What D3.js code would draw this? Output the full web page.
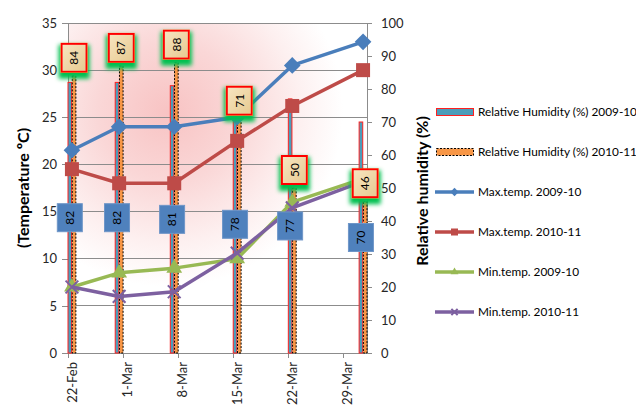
<!DOCTYPE html>
<html>
<head>
<meta charset="utf-8">
<script src="https://cdn.jsdelivr.net/npm/d3@7"></script>
<style>
  html, body { margin: 0; padding: 0; background: #fff; }
  svg { display: block; font-family: Lato, "Open Sans", sans-serif; }
</style>
</head>
<body>
<svg id="chart" width="636" height="407"></svg>
<script>
// Sampling dates and weekly observations
const sampleDates = ["2010-02-22", "2010-02-28", "2010-03-07", "2010-03-15", "2010-03-22", "2010-03-31"];
const rh0910   = [82, 82, 81, 78, 77, 70];
const rh1011   = [84, 87, 88, 71, 50, 46];
const maxT0910 = [21.5, 24, 24, 25, 30.5, 33];
const maxT1011 = [19.5, 18, 18, 22.5, 26.2, 30];
const minT0910 = [7, 8.5, 9, 10, 16, 18.5];
const minT1011 = [7, 6, 6.5, 10.6, 15.4, 18.2];

// Axis ticks
const tempTicks = [0, 5, 10, 15, 20, 25, 30, 35];
const rhTicks = [0, 10, 20, 30, 40, 50, 60, 70, 80, 90, 100];
const weekTicks = ["2010-02-22", "2010-03-01", "2010-03-08", "2010-03-15", "2010-03-22", "2010-03-29"];
const axisEnd = "2010-04-01";

const legendLabels = [
  "Relative Humidity (%) 2009-10",
  "Relative Humidity (%) 2010-11",
  "Max.temp. 2009-10",
  "Max.temp. 2010-11",
  "Min.temp. 2009-10",
  "Min.temp. 2010-11"
];

const parse = d3.utcParse("%Y-%m-%d");
const dates = sampleDates.map(parse);
const weeks = weekTicks.map(parse);

const L = 68, R = 367, T = 23, B = 353;
const svg = d3.select("#chart");

const x = d3.scaleUtc().domain([parse(weekTicks[0]), parse(axisEnd)]).range([L, R]);
const yT = d3.scaleLinear().domain([0, 35]).range([B, T]);
const yH = d3.scaleLinear().domain([0, 100]).range([B, T]);
const dayW = x(d3.utcDay.offset(dates[0], 1)) - x(dates[0]);
const cx = d => x(d) + dayW / 2;
const barBand = d3.scaleBand().domain(["a", "b"]).range([0, dayW]).paddingInner(0.15);

const defs = svg.append("defs");
const bg = defs.append("radialGradient").attr("id", "plotBg")
  .attr("gradientUnits", "userSpaceOnUse").attr("cx", 168).attr("cy", 112).attr("r", 175);
bg.append("stop").attr("offset", 0).attr("stop-color", "#F8C3C3");
bg.append("stop").attr("offset", 0.4).attr("stop-color", "#FAD7D7");
bg.append("stop").attr("offset", 0.75).attr("stop-color", "#FDF0F0");
bg.append("stop").attr("offset", 1).attr("stop-color", "#FFFFFF");

const tan = defs.append("linearGradient").attr("id", "tan").attr("x1", 0).attr("y1", 0).attr("x2", 1).attr("y2", 1);
tan.append("stop").attr("offset", 0).attr("stop-color", "#F7E6C2");
tan.append("stop").attr("offset", 0.5).attr("stop-color", "#EFD7A8");
tan.append("stop").attr("offset", 1).attr("stop-color", "#E6C98F");

const glow = defs.append("filter").attr("id", "glow")
  .attr("x", "-50%").attr("y", "-50%").attr("width", "200%").attr("height", "200%");
glow.append("feMorphology").attr("in", "SourceAlpha").attr("operator", "dilate").attr("radius", 1.5).attr("result", "d");
glow.append("feOffset").attr("in", "d").attr("dy", 4).attr("result", "o");
glow.append("feGaussianBlur").attr("in", "o").attr("stdDeviation", 2.2).attr("result", "b");
glow.append("feFlood").attr("flood-color", "#00C050");
glow.append("feComposite").attr("in2", "b").attr("operator", "in").attr("result", "g");
const gm = glow.append("feMerge");
gm.append("feMergeNode").attr("in", "g");
gm.append("feMergeNode").attr("in", "SourceGraphic");

// Plot area background
svg.append("rect").attr("x", L).attr("y", T).attr("width", R - L).attr("height", B - T)
  .attr("fill", "url(#plotBg)");

// Horizontal gridlines
svg.append("g").selectAll("line").data(tempTicks.filter(t => t > 0)).join("line")
  .attr("x1", L).attr("x2", R).attr("y1", d => yT(d)).attr("y2", d => yT(d))
  .attr("stroke", "#8C8C8C").attr("stroke-width", 1).attr("shape-rendering", "crispEdges");

// Axes
function styleAxis(g) {
  g.selectAll("path.domain").attr("stroke", "#8C8C8C").attr("shape-rendering", "crispEdges");
  g.selectAll(".tick line").attr("stroke", "#8C8C8C").attr("shape-rendering", "crispEdges");
  g.selectAll(".tick text").attr("fill", "#262626").attr("font-size", 13)
    .attr("font-family", "Lato, 'Open Sans', sans-serif");
}
svg.append("g").attr("transform", `translate(${L},0)`)
  .call(d3.axisLeft(yT).tickValues(tempTicks).tickSize(6).tickSizeOuter(0).tickPadding(5))
  .call(styleAxis);
svg.append("g").attr("transform", `translate(${R},0)`)
  .call(d3.axisRight(yH).tickValues(rhTicks).tickSize(5).tickSizeOuter(0).tickPadding(9))
  .call(styleAxis);
const xAxis = svg.append("g").attr("transform", `translate(0,${B})`)
  .call(d3.axisBottom(x).tickValues(weeks).tickFormat(d3.utcFormat("%-d-%b")).tickSize(5).tickSizeOuter(0))
  .call(styleAxis);
xAxis.selectAll(".tick text")
  .attr("transform", "rotate(-90)").attr("text-anchor", "end")
  .attr("x", -9).attr("y", 4).attr("dy", "0.35em");

// Humidity bars
const bars = svg.append("g");
bars.selectAll("rect.a").data(dates).join("rect").attr("class", "a")
  .attr("x", d => x(d) + barBand("a")).attr("width", barBand.bandwidth())
  .attr("y", (d, i) => yH(rh0910[i])).attr("height", (d, i) => B - yH(rh0910[i]))
  .attr("fill", "#4B9DBA").attr("stroke", "#FF2020").attr("stroke-width", 1);
bars.selectAll("rect.b").data(dates).join("rect").attr("class", "b")
  .attr("x", d => x(d) + barBand("b")).attr("width", barBand.bandwidth())
  .attr("y", (d, i) => yH(rh1011[i])).attr("height", (d, i) => B - yH(rh1011[i]))
  .attr("fill", "#F79646").attr("stroke", "#000").attr("stroke-width", 1)
  .attr("stroke-dasharray", "2,1.5");

// Temperature lines
const series = [
  { vals: maxT0910, color: "#4A7EBB", marker: "diamond" },
  { vals: maxT1011, color: "#BE4B48", marker: "square" },
  { vals: minT0910, color: "#98B954", marker: "triangle" },
  { vals: minT1011, color: "#7D60A0", marker: "x" }
];
const line = d3.line().x(d => d[0]).y(d => d[1]);

function drawMarker(g, type, color, px, py, s) {
  if (type === "diamond") {
    g.append("path").attr("d", d3.symbol(d3.symbolDiamond2, s * s * 0.9)())
      .attr("transform", `translate(${px},${py})`).attr("fill", color);
  } else if (type === "square") {
    g.append("rect").attr("x", px - s / 2).attr("y", py - s / 2).attr("width", s).attr("height", s)
      .attr("fill", color);
  } else if (type === "triangle") {
    g.append("path").attr("d", d3.symbol(d3.symbolTriangle, s * s * 0.55)())
      .attr("transform", `translate(${px},${py})`).attr("fill", color);
  } else {
    g.append("path").attr("d", d3.symbol(d3.symbolX, s * s * 0.55)())
      .attr("transform", `translate(${px},${py})`).attr("stroke", color).attr("stroke-width", 2).attr("fill", "none");
  }
}

const lines = svg.append("g");
series.forEach(s => {
  const pts = dates.map((d, i) => [cx(d), yT(s.vals[i])]);
  lines.append("path").attr("d", line(pts)).attr("fill", "none")
    .attr("stroke", s.color).attr("stroke-width", 3.5).attr("stroke-linejoin", "round");
  const mg = lines.append("g");
  pts.forEach(p => drawMarker(mg, s.marker, s.color, p[0], p[1], 14));
});

// Data labels
const labels = svg.append("g").attr("font-size", 12).attr("fill", "#000");
dates.forEach((d, i) => {
  // 2009-10 humidity: centred on its bar
  const ax = x(d) + barBand("a") + barBand.bandwidth() / 2;
  const ay = (yH(rh0910[i]) + B) / 2;
  const ga = labels.append("g").attr("transform", `translate(${ax},${ay})`);
  ga.append("rect").attr("x", -12.5).attr("y", -14).attr("width", 25).attr("height", 28)
    .attr("fill", "#4F81BD").attr("stroke", "#6F96C8").attr("stroke-width", 1);
  ga.append("text").attr("transform", "rotate(-90)").attr("text-anchor", "middle")
    .attr("dy", "0.35em").text(rh0910[i]);

  // 2010-11 humidity: just above its bar
  const bx = x(d) + barBand("b") + barBand.bandwidth() / 2;
  const by = yH(rh1011[i]) - 4 - 14;
  const gb = labels.append("g").attr("transform", `translate(${bx},${by})`);
  gb.append("rect").attr("x", -12.5).attr("y", -14).attr("width", 25).attr("height", 28)
    .attr("fill", "url(#tan)").attr("stroke", "#FF0000").attr("stroke-width", 2)
    .attr("filter", "url(#glow)");
  gb.append("text").attr("transform", "rotate(-90)").attr("text-anchor", "middle")
    .attr("dy", "0.35em").text(rh1011[i]);
});

// Axis titles
svg.append("text").attr("transform", `translate(29,${(T + B) / 2}) rotate(-90)`)
  .attr("text-anchor", "middle").attr("font-size", 16).attr("font-weight", "bold")
  .attr("fill", "#000").text("(Temperature ºC)");
svg.append("text").attr("transform", `translate(428,${(T + B) / 2 + 3}) rotate(-90)`)
  .attr("text-anchor", "middle").attr("font-size", 16).attr("font-weight", "bold")
  .attr("fill", "#000").text("Relative humidity (%)");

// Legend
const leg = svg.append("g");
const legY = d3.range(6).map(i => 112 + i * 40);
legendLabels.forEach((lab, i) => {
  const y = legY[i];
  const g = leg.append("g");
  if (i === 0) {
    g.append("rect").attr("x", 436.5).attr("y", y - 3.5).attr("width", 37).attr("height", 7)
      .attr("fill", "#4B9DBA").attr("stroke", "#FF2020").attr("stroke-width", 1);
  } else if (i === 1) {
    g.append("rect").attr("x", 436.5).attr("y", y - 3.5).attr("width", 37).attr("height", 7)
      .attr("fill", "#F79646").attr("stroke", "#000").attr("stroke-width", 1).attr("stroke-dasharray", "2,1.5");
  } else {
    const s = series[i - 2];
    g.append("line").attr("x1", 435).attr("x2", 474).attr("y1", y).attr("y2", y)
      .attr("stroke", s.color).attr("stroke-width", 3.5);
    drawMarker(g, s.marker, s.color, 454.5, y, 7);
  }
  g.append("text").attr("x", 478).attr("y", y).attr("dy", "0.35em")
    .attr("font-size", 11.8).attr("fill", "#000").text(lab);
});
</script>
</body>
</html>
